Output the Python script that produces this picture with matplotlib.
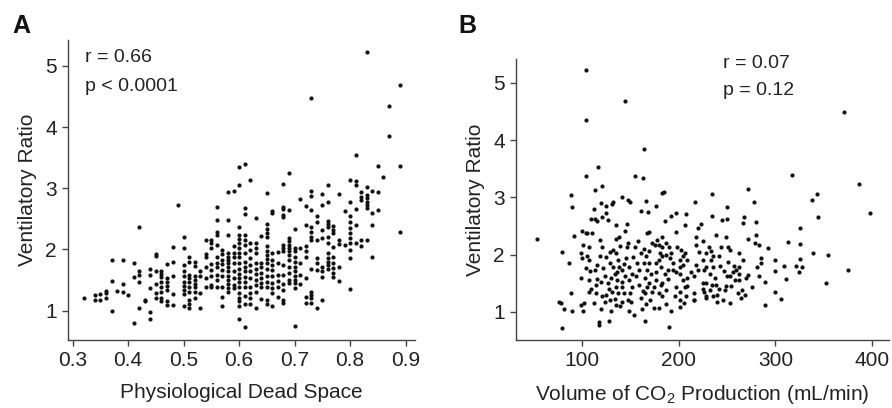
import matplotlib
matplotlib.use("Agg")
import matplotlib.pyplot as plt

plt.rcParams['font.family'] = ['Liberation Sans', 'DejaVu Sans']
plt.rcParams['mathtext.fontset'] = 'custom'
plt.rcParams['mathtext.rm'] = 'Liberation Sans'
plt.rcParams['mathtext.it'] = 'Liberation Sans:italic'

# Panel A: physiological dead space (columns) -> ventilatory ratios
dead_space_cols = {
    0.32: [1.20],
    0.34: [1.25, 1.18],
    0.35: [1.27, 1.18],
    0.36: [1.32, 1.28, 1.21],
    0.37: [1.83, 1.48, 1.00],
    0.38: [1.32],
    0.39: [1.83, 1.43, 1.31],
    0.40: [1.26],
    0.41: [1.77, 1.55, 0.80],
    0.42: [2.36, 1.65, 1.58, 1.47, 1.04],
    0.43: [1.18, 1.16],
    0.44: [1.68, 1.58, 1.37, 0.97, 0.86],
    0.45: [1.92, 1.89, 1.64, 1.44, 1.28, 1.21],
    0.46: [1.65, 1.60, 1.55, 1.47, 1.38, 1.31, 1.20, 1.16],
    0.47: [1.76, 1.54, 1.46, 1.40, 1.34, 1.15, 1.09],
    0.48: [2.04, 1.79, 1.56, 1.27, 1.09],
    0.49: [2.72],
    0.50: [2.20, 2.02, 1.75, 1.65, 1.56, 1.47, 1.40, 1.34, 1.27, 1.08],
    0.51: [1.87, 1.79, 1.58, 1.53, 1.46, 1.38, 1.31, 1.17, 1.11, 1.04],
    0.52: [1.79, 1.73, 1.56, 1.50, 1.44, 1.38, 1.31, 1.20],
    0.53: [1.65, 1.57, 1.29, 1.04],
    0.54: [2.16, 1.93, 1.88, 1.72, 1.53, 1.38],
    0.55: [2.15, 2.10, 2.02, 1.76, 1.66, 1.56, 1.42, 1.38],
    0.56: [2.69, 2.48, 2.29, 2.24, 2.07, 1.88, 1.77, 1.72, 1.58, 1.50, 1.39],
    0.57: [1.99, 1.92, 1.83, 1.76, 1.67, 1.57, 1.39, 1.23, 1.08],
    0.58: [2.93, 2.48, 2.24, 1.94, 1.88, 1.83, 1.77, 1.72, 1.65, 1.56, 1.50,
           1.44, 1.37, 1.31],
    0.59: [2.96, 2.05, 1.94, 1.88, 1.77, 1.65, 1.53, 1.42, 1.37],
    0.60: [3.34, 3.06, 2.36, 2.24, 2.17, 2.10, 2.02, 1.94, 1.87, 1.77, 1.68,
           1.60, 1.53, 1.47, 1.38, 1.28, 1.21, 1.15, 1.07, 0.87],
    0.61: [3.39, 2.67, 2.58, 2.24, 2.16, 2.07, 1.94, 1.80, 1.72, 1.64, 1.55,
           1.47, 1.39, 1.24, 1.11, 0.74],
    0.62: [3.14, 2.10, 1.99, 1.86, 1.75, 1.65, 1.53, 1.39, 1.28, 1.20, 1.11],
    0.63: [2.52, 2.11, 2.02, 1.94, 1.77, 1.68, 1.60, 1.50, 1.42, 1.31, 1.04],
    0.64: [2.22, 1.77, 1.72, 1.62, 1.53, 1.45, 1.38, 1.19],
    0.65: [2.92, 2.42, 2.33, 2.27, 2.20, 2.05, 1.98, 1.91, 1.84, 1.77, 1.68,
           1.57, 1.47, 1.39, 1.17, 1.11],
    0.66: [2.62, 2.60, 1.94, 1.83, 1.75, 1.67, 1.56, 1.45, 1.37, 1.28, 1.07],
    0.67: [1.95, 1.77, 1.58, 1.49, 1.39, 1.23],
    0.68: [3.07, 2.69, 2.66, 2.56, 2.53, 2.07, 2.02, 1.97, 1.75, 1.58, 1.44,
           1.34, 1.17, 1.13],
    0.69: [3.25, 2.64, 2.18, 2.13, 2.07, 2.02, 1.97, 1.91, 1.83, 1.72, 1.61,
           1.50, 1.45],
    0.70: [2.34, 2.02, 1.97, 1.88, 1.80, 1.72, 1.64, 1.56, 1.50, 1.45, 1.37, 0.75],
    0.71: [2.82, 2.02, 1.77, 1.58, 1.44],
    0.72: [2.71, 2.40, 2.05, 1.97, 1.88, 1.53, 1.23, 1.12],
    0.73: [4.48, 2.95, 2.88, 2.64, 2.37, 2.29, 2.21, 2.15, 1.68, 1.31, 1.26,
           1.20, 1.12],
    0.74: [2.55, 2.44, 2.15, 1.86, 1.77, 1.66, 1.05],
    0.75: [2.91, 2.73, 2.32, 2.18, 1.72, 1.65, 1.55, 1.17],
    0.76: [3.06, 2.78, 2.47, 2.42, 2.37, 2.20, 2.10, 1.94, 1.86, 1.80, 1.75, 1.68],
    0.77: [2.38, 2.32, 2.26, 2.04, 1.87, 1.77, 1.69, 1.62, 1.55],
    0.78: [2.91, 2.15, 2.09, 1.72, 1.49],
    0.79: [2.62, 2.07],
    0.80: [3.14, 2.78, 2.54, 2.44, 2.35, 2.26, 2.18, 2.10, 1.99, 1.86, 1.35],
    0.81: [3.55, 3.11, 3.06, 2.66, 2.40, 2.10],
    0.82: [2.93, 2.86, 2.81, 2.16, 2.06],
    0.83: [5.22, 3.02, 2.89, 2.84, 2.78, 2.73, 2.67, 2.15],
    0.84: [2.95, 2.60, 2.40, 1.87],
    0.85: [3.37, 2.93, 2.64],
    0.86: [3.18],
    0.87: [4.35, 3.85],
    0.89: [4.68, 3.37, 2.29],
}
dead_space = [x for x, ys in dead_space_cols.items() for _ in ys]
vr_a = [y for ys in dead_space_cols.values() for y in ys]

# Panel B: VCO2 (mL/min) and ventilatory ratio
vco2 = [54, 104.5, 104.5, 145, 164, 371, 386, 398, 317.5, 338, 343, 343.5,
        325, 338.5, 354, 352, 375, 313, 325, 325, 321, 327, 324, 311, 309,
        299, 300, 300, 306, 289, 292, 289, 272, 278, 280, 268, 267, 272, 280,
        283, 279, 285, 281, 285, 283, 276, 269, 264, 261, 259, 262, 262, 267,
        270, 272, 250, 245, 250, 249, 251, 253, 239, 235, 234, 231, 233, 236,
        242, 243, 247, 251, 250, 253, 256, 254, 249, 242, 240, 253, 236, 228,
        226, 235, 238, 232, 228, 225, 228, 221, 218, 220, 216, 225, 225, 228,
        216, 216, 206, 208, 218, 220, 223, 217, 208, 207, 203, 207, 201, 205,
        209, 213, 201, 205, 197, 196, 201, 198, 197, 197, 192, 186, 183, 185,
        183, 187, 190, 183, 187, 191, 189, 194, 186, 189, 183, 187, 180, 182,
        187, 192, 190, 180, 175, 183, 177, 177, 180, 176, 180, 173, 177, 166,
        168, 167, 161, 163, 155, 148, 150, 142, 147, 145, 139, 135, 135, 132,
        131, 125, 120, 121, 114, 117, 105, 113, 89, 90, 92, 100, 104, 106, 111,
        110, 114, 116, 121, 127, 125, 119, 121, 80, 87, 99, 101, 108, 99, 100,
        106, 104, 108, 109, 108, 110, 108, 89, 77, 79, 82, 90, 99, 101, 102,
        80, 118, 118, 128, 113, 115, 115, 116, 114, 116, 119, 122, 124, 120,
        121, 125, 124, 120, 130, 129, 134, 131, 128, 127, 130, 134, 132, 129,
        125, 129, 132, 135, 138, 139, 137, 137, 135, 138, 135, 140, 142, 144,
        142, 142, 145, 142, 144, 146, 147, 140, 148, 149, 154, 151, 150, 152,
        149, 152, 149, 153, 155, 158, 161, 157, 159, 156, 159, 163, 161, 162,
        166, 165, 165, 167, 165, 167, 164, 166, 169, 164, 170, 172, 170, 173,
        171, 175, 177, 182, 181, 183, 170, 148, 178, 201, 201, 207, 209, 209,
        216, 226, 201, 197, 194, 192, 205, 228, 233, 236, 239, 232, 240, 246,
        248, 258, 262, 265, 257, 262, 244, 225, 218]
vr_b = [2.28, 5.23, 4.35, 4.69, 3.85, 4.49, 3.24, 2.72, 3.39, 2.95, 3.05,
        2.66, 2.47, 2.02, 1.99, 1.50, 1.73, 2.22, 2.19, 1.92, 1.81, 1.78,
        1.69, 1.57, 1.80, 1.90, 1.72, 1.35, 1.22, 1.12, 2.11, 1.53, 3.14,
        2.92, 2.57, 2.66, 2.56, 2.27, 2.34, 2.17, 2.21, 1.94, 1.79, 1.85,
        1.63, 1.44, 1.30, 1.25, 1.33, 1.73, 1.79, 1.67, 1.91, 1.59, 1.65,
        2.84, 2.60, 2.62, 2.31, 2.14, 2.08, 2.34, 3.06, 2.67, 2.13, 2.07,
        1.98, 1.97, 1.80, 1.72, 1.88, 1.63, 1.62, 1.69, 1.45, 1.46, 1.40,
        1.18, 1.16, 1.28, 1.27, 1.35, 1.47, 1.60, 1.67, 1.79, 1.91, 1.51,
        2.05, 1.82, 1.74, 1.62, 1.51, 1.40, 1.24, 1.33, 1.21, 1.15, 1.28,
        2.31, 2.46, 2.53, 2.91, 2.71, 2.52, 2.08, 2.02, 1.91, 1.82, 1.91,
        1.70, 1.67, 1.56, 1.44, 1.27, 1.35, 2.14, 2.40, 2.72, 2.67, 2.59,
        3.07, 3.10, 2.30, 2.21, 2.14, 1.98, 1.99, 1.94, 1.74, 1.74, 1.66,
        1.57, 1.50, 1.38, 1.33, 1.47, 1.14, 1.01, 0.73, 1.06, 1.06, 1.28,
        1.56, 1.85, 1.91, 2.17, 2.17, 2.21, 2.85, 2.94, 2.75, 2.38, 2.77,
        3.33, 3.37, 2.95, 2.92, 3.00, 2.53, 2.42, 2.31, 2.28, 2.51, 2.92,
        2.88, 2.85, 2.90, 3.19, 3.13, 3.53, 3.37, 2.79, 3.04, 2.84, 2.33,
        2.42, 2.38, 2.38, 2.38, 2.63, 2.63, 2.59, 2.66, 2.60, 2.72, 2.26,
        2.13, 2.05, 1.85, 2.02, 2.17, 2.13, 1.59, 1.94, 1.97, 1.76, 1.91,
        1.72, 1.56, 1.40, 1.35, 1.33, 1.18, 1.15, 1.05, 1.02, 1.12, 1.02,
        1.15, 0.72, 0.83, 0.77, 0.85, 1.15, 1.33, 1.47, 1.57, 1.73, 1.82,
        1.97, 1.76, 1.62, 1.53, 1.27, 1.30, 1.18, 1.05, 1.01, 1.21, 1.22,
        1.34, 1.40, 1.50, 1.59, 1.66, 1.79, 1.85, 1.95, 2.05, 2.08, 2.02,
        1.91, 1.79, 1.70, 1.56, 1.44, 1.33, 1.12, 1.10, 1.18, 1.33, 1.43,
        1.53, 1.63, 1.73, 1.84, 1.94, 2.14, 2.15, 1.21, 1.01, 0.95, 1.18,
        1.33, 1.44, 1.56, 1.67, 1.79, 1.95, 2.14, 2.23, 2.02, 1.85, 1.73,
        1.62, 1.47, 1.37, 1.24, 1.05, 1.14, 0.84, 1.33, 1.43, 1.60, 1.73,
        1.85, 1.97, 2.07, 2.09, 1.86, 1.67, 1.50, 1.34, 1.21, 1.44, 1.70,
        1.79, 2.02, 2.13, 2.40, 2.21, 2.26, 1.09, 1.21, 1.44, 1.45, 1.59,
        1.21, 1.73, 1.79, 1.70, 1.85, 2.02, 1.97, 2.02, 1.91, 1.79, 1.47,
        1.38, 1.30, 1.21, 1.38, 1.56, 1.56, 1.38, 1.80, 2.02, 2.14, 2.23,
        2.17]

yticks = [1, 2, 3, 4, 5]
xticks_a = [0.3, 0.4, 0.5, 0.6, 0.7, 0.8, 0.9]
xticks_b = [100, 200, 300, 400]

fig = plt.figure(figsize=(8.92, 4.08), dpi=100)
ax_a = fig.add_axes([0.0762, 0.1667, 0.389, 0.735])
ax_b = fig.add_axes([0.5785, 0.1667, 0.418, 0.688])

ink = '#222222'
spine_c = '#444444'


def style(ax):
    for s in ('top', 'right'):
        ax.spines[s].set_visible(False)
    for s in ('left', 'bottom'):
        ax.spines[s].set_color(spine_c)
        ax.spines[s].set_linewidth(1.0)
    ax.tick_params(direction='out', length=4, width=1.0, color=spine_c,
                   labelsize=15, labelcolor=ink, pad=4)
    ax.set_yticks(yticks)


ax_a.scatter(dead_space, vr_a, s=9, color='#111111', linewidths=0)
ax_a.set_xlim(0.2915, 0.917)
ax_a.set_ylim(0.52, 5.42)
ax_a.set_xticks(xticks_a)
ax_a.set_xticklabels(['0.3', '0.4', '0.5', '0.6', '0.7', '0.8', '0.9'])
style(ax_a)
ax_a.set_xlabel('Physiological Dead Space', fontsize=15, color=ink, labelpad=9)
ax_a.set_ylabel('Ventilatory Ratio', fontsize=15, color=ink, labelpad=6)
ax_a.text(0.322, 5.13, 'r = 0.66', fontsize=14, color=ink, va='center')
ax_a.text(0.322, 4.67, 'p < 0.0001', fontsize=14, color=ink, va='center')

ax_b.scatter(vco2, vr_b, s=9, color='#111111', linewidths=0)
ax_b.set_xlim(32.3, 417)
ax_b.set_ylim(0.51, 5.41)
ax_b.set_xticks(xticks_b)
style(ax_b)
ax_b.set_xlabel('Volume of CO$_{2}$ Production (mL/min)', fontsize=15,
                color=ink, labelpad=9)
ax_b.set_ylabel('Ventilatory Ratio', fontsize=15, color=ink, labelpad=6)
ax_b.text(245.7, 5.34, 'r = 0.07', fontsize=14, color=ink, va='center')
ax_b.text(245.7, 4.86, 'p = 0.12', fontsize=14, color=ink, va='center')

fig.text(12 / 892, 1 - 26 / 408, 'A', fontsize=18, fontweight='bold',
         color='#111111', va='center')
fig.text(458 / 892, 1 - 26 / 408, 'B', fontsize=18, fontweight='bold',
         color='#111111', va='center')

fig.savefig('out.png', dpi=100)
